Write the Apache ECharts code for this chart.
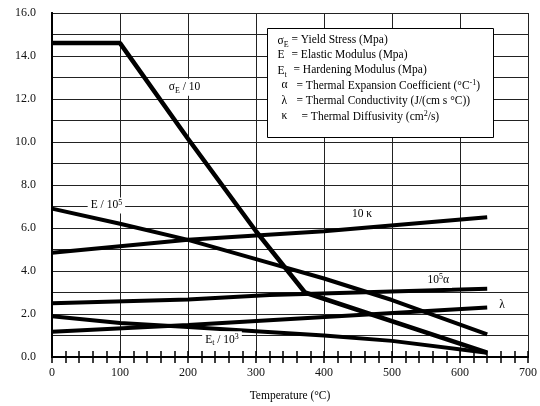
<!DOCTYPE html>
<html>
<head>
<meta charset="utf-8">
<script src="https://cdn.jsdelivr.net/npm/echarts@6/dist/echarts.min.js"></script>
<style>
html,body{margin:0;padding:0;background:#fff;}
#c{width:540px;height:406px;}
</style>
</head>
<body>
<div id="c"></div>
<script>
// Temperature (°C) and scaled property values
const sigmaE = [[0,14.6],[100,14.6],[200,10.15],[300,5.85],[372,3.0],[640,0.2]];
const elasticE = [[0,6.9],[100,6.2],[200,5.45],[300,4.55],[400,3.65],[500,2.65],[640,1.05]];
const kappa10 = [[0,4.85],[200,5.45],[400,5.85],[640,6.5]];
const alpha1e5 = [[0,2.5],[200,2.68],[320,2.88],[640,3.18]];
const lambdaC = [[0,1.18],[200,1.49],[640,2.3]];
const hardEt = [[0,1.9],[100,1.58],[200,1.4],[300,1.2],[400,1.0],[500,0.75],[640,0.2]];

const xTicks = [0,100,200,300,400,500,600,700];
const yLabels = [0,2,4,6,8,10,12,14,16];

const serif = '"Liberation Serif","DejaVu Serif",serif';
const chart = echarts.init(document.getElementById('c'));

const rich = {
  n: {fontFamily: serif, fontSize: 11.5, color: '#000'},
  sub: {fontFamily: serif, fontSize: 8, color: '#000', padding: [7,0,0,0]},
  sup: {fontFamily: serif, fontSize: 8, color: '#000', padding: [0,0,6,0]}
};

function lbl(coord, text) {
  return {
    coord: coord, symbol: 'rect', symbolSize: 0,
    label: {show: true, position: 'inside', formatter: text, rich: rich,
      backgroundColor: '#fff', padding: [1,3,1,3], fontFamily: serif, fontSize: 11.5, color: '#000'}
  };
}

function line(name, data, width, labelItem) {
  return {
    name: name, type: 'line', data: data, symbol: 'none', silent: true,
    lineStyle: {color: '#000', width: width},
    markPoint: labelItem ? {silent: true, animation: false, data: [labelItem]} : undefined,
    z: 3
  };
}

const axisFont = {fontFamily: serif, fontSize: 12, color: '#111'};
const tf = '11.5px ' + serif;
function t(x, y, text) {
  return {type: 'text', x: x, y: y, z: 101, style: {text: text, font: tf, fill: '#000'}};
}
function tr(x, y, text) {
  return {type: 'text', x: x, y: y, z: 101, style: {text: text, rich: rich}};
}

chart.setOption({
  animation: false,
  grid: {left: 52, right: 12, top: 13, bottom: 49, containLabel: false, outerBoundsMode: 'none'},
  xAxis: [{
    type: 'value', min: 0, max: 700, interval: 100, position: 'bottom',
    axisLine: {show: true, lineStyle: {color: '#000', width: 2}},
    axisTick: {show: true, inside: true, length: 6, lineStyle: {color: '#000', width: 1.5}},
    minorTick: {show: true, splitNumber: 5, length: 6, lineStyle: {color: '#000', width: 1.5}},
    splitLine: {show: true, lineStyle: {color: '#222', width: 1}},
    axisLabel: Object.assign({margin: 10, formatter: v => xTicks.includes(v) ? String(v) : ''}, axisFont),
    name: 'Temperature (°C)', nameLocation: 'middle', nameGap: 33,
    nameTextStyle: {fontFamily: serif, fontSize: 11.5, color: '#000'}
  }, {
    type: 'value', min: 0, max: 700, interval: 100, position: 'top',
    axisLine: {show: true, lineStyle: {color: '#000', width: 2}},
    axisTick: {show: true, inside: true, length: 6, lineStyle: {color: '#000', width: 1.5}},
    minorTick: {show: true, splitNumber: 5, length: 6, lineStyle: {color: '#000', width: 1.5}},
    splitLine: {show: false}, axisLabel: {show: false}
  }],
  yAxis: [{
    type: 'value', min: 0, max: 16, interval: 1,
    axisLine: {show: true, lineStyle: {color: '#000', width: 2}},
    axisTick: {show: false},
    splitLine: {show: true, lineStyle: {color: '#222', width: 1}},
    axisLabel: Object.assign({margin: 16, formatter: v => yLabels.includes(v) ? v.toFixed(1) : ''}, axisFont)
  }, {
    type: 'value', min: 0, max: 16, interval: 1, position: 'right',
    axisLine: {show: true, lineStyle: {color: '#000', width: 2}},
    axisTick: {show: false}, splitLine: {show: false}, axisLabel: {show: false}
  }],
  series: [
    line('sigmaE', sigmaE, 4.5, lbl([195, 12.55], '{n|σ}{sub|E}{n| / 10}')),
    line('E', elasticE, 4, lbl([80, 7.05], '{n|E / 10}{sup|5}')),
    line('kappa', kappa10, 4, lbl([456, 6.65], '{n|10 κ}')),
    line('alpha', alpha1e5, 4, lbl([568, 3.58], '{n|10}{sup|5}{n|α}')),
    line('lambda', lambdaC, 4, lbl([662, 2.42], '{n|λ}')),
    line('Et', hardEt, 4, lbl([250, 0.8], '{n|E}{sub|t}{n| / 10}{sup|3}'))
  ],
  graphic: [{
    type: 'group', left: 267, top: 28, z: 100,
    children: [
      {type: 'rect', z: 100, shape: {x: 0, y: 0, width: 226, height: 109},
        style: {fill: '#fff', stroke: '#000', lineWidth: 1}},
      tr(10, 5, '{n|σ}{sub|E}'),
      t(24, 5, '= Yield Stress (Mpa)'),
      t(10, 20, 'E'),
      t(24, 20, '= Elastic Modulus (Mpa)'),
      tr(10, 35, '{n|E}{sub|t}'),
      t(26, 35, '= Hardening Modulus (Mpa)'),
      t(14, 50, 'α'),
      tr(29, 50, '{n|= Thermal Expansion Coefficient (°C}{sup|-1}{n|)}'),
      t(14, 66, 'λ'),
      t(29, 66, '= Thermal Conductivity (J/(cm s °C))'),
      t(14, 81, 'κ'),
      tr(34, 81, '{n|= Thermal Diffusivity (cm}{sup|2}{n|/s)}')
    ]
  }]
});
</script>
</body>
</html>
